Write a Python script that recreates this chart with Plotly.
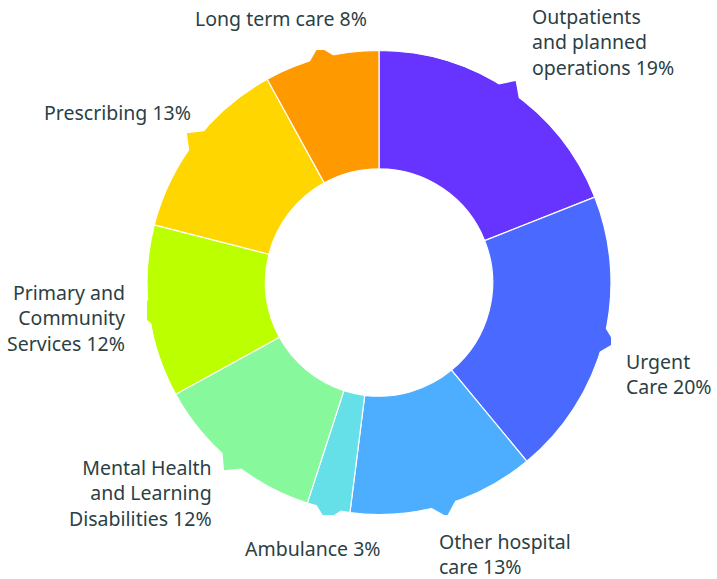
import math
import plotly.graph_objects as go

categories = ["Outpatients and planned operations", "Urgent Care", "Other hospital care",
              "Ambulance", "Mental Health and Learning Disabilities",
              "Primary and Community Services", "Prescribing", "Long term care"]
values = [19, 20, 13, 3, 12, 12, 13, 8]
label_texts = ["Outpatients<br>and planned<br>operations 19%", "Urgent<br>Care 20%",
               "Other hospital<br>care 13%", "Ambulance 3%",
               "Mental Health<br>and Learning<br>Disabilities 12%",
               "Primary and<br>Community<br>Services 12%", "Prescribing 13%",
               "Long term care 8%"]
colors = ["#6633ff", "#4a6aff", "#4daeff", "#66e0e8", "#88f89c", "#bbff00", "#ffd600", "#ff9900"]

# label placement (pixels from top-left) and alignment
label_pos = [(530, 42, "left"), (624, 374, "left"), (437, 554, "left"), (243, 548, "left"),
             (214, 493, "right"), (127, 318, "right"), (193, 113, "right"), (193, 19, "left")]

W, H = 717, 579
dom_x = [147 / W, 611 / W]
dom_y = [1 - 515 / H, 1 - 50 / H]

fig = go.Figure()
# empty trace to create the overlay axes used by the pointer tabs
fig.add_trace(go.Scatter(x=[], y=[], showlegend=False, hoverinfo="skip"))

fig.add_trace(go.Pie(
    labels=categories, values=values, sort=False, direction="clockwise", rotation=0,
    hole=0.49, marker=dict(colors=colors, line=dict(color="white", width=1.2)),
    textinfo="none", hoverinfo="label+percent",
    domain=dict(x=dom_x, y=dom_y), showlegend=False,
))

# small pointer tabs at the outer edge of each slice, at the slice's mid angle
total = sum(values)
cum = 0
for v, c in zip(values, colors):
    mid = (cum + v / 2) / total * 2 * math.pi
    cum += v
    d = math.radians(3.0)
    pts = [(0.96, mid - d), (0.996, mid - d), (1.048, mid), (0.996, mid + d), (0.96, mid + d)]
    path = "M " + " L ".join(f"{r * math.sin(a):.4f},{r * math.cos(a):.4f}" for r, a in pts) + " Z"
    fig.add_shape(type="path", path=path, xref="x", yref="y", layer="above",
                  fillcolor=c, line=dict(width=0))

for txt, (px, py, al) in zip(label_texts, label_pos):
    fig.add_annotation(
        x=px / W, y=1 - py / H, xref="paper", yref="paper",
        xanchor=al, yanchor="middle", align=al, text=txt, showarrow=False,
        font=dict(family="Noto Sans", size=19.5, color="#2b3f45"),
    )

fig.update_layout(
    width=W, height=H, margin=dict(l=0, r=0, t=0, b=0),
    paper_bgcolor="white", plot_bgcolor="white",
    xaxis=dict(domain=dom_x, range=[-1, 1], visible=False, fixedrange=True),
    yaxis=dict(domain=dom_y, range=[-1, 1], visible=False, fixedrange=True),
)
fig.write_html("out.html", config={"displayModeBar": False},
               post_script="document.body.style.margin='0';")
